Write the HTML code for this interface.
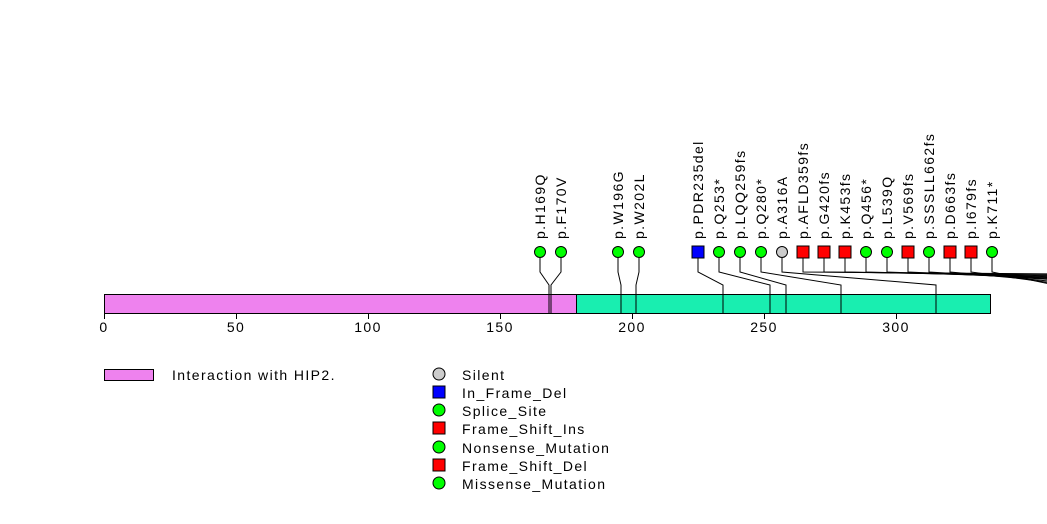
<!DOCTYPE html>
<html><head><style>body{margin:0;background:#fff}svg{display:block}text{font-family:"Liberation Sans",sans-serif;font-size:14px;fill:#000;letter-spacing:1.4px}</style></head>
<body>
<svg width="1047" height="524" xmlns="http://www.w3.org/2000/svg">
<g stroke="#000" stroke-width="1" fill="none">
<polyline points="540,252 540,272 549,285 549,313"/>
<polyline points="561,252 561,272 551,285 551,313"/>
<polyline points="618,252 618,272 621,285 621,313"/>
<polyline points="639,252 639,272 636,285 636,313"/>
<polyline points="698,252 698,272 723,285 723,313"/>
<polyline points="719,252 719,272 770,285 770,313"/>
<polyline points="740,252 740,272 786,285 786,313"/>
<polyline points="761,252 761,272 841,285 841,313"/>
<polyline points="782,252 782,272 936,285 936,313"/>
<polyline points="803,252 803,272 1060,274"/>
<polyline points="824,252 824,272 1060,275"/>
<polyline points="845,252 845,272 1060,276"/>
<polyline points="866,252 866,272 1060,277"/>
<polyline points="887,252 887,272 1060,278"/>
<polyline points="908,252 908,272 1060,279"/>
<polyline points="929,252 929,272 1060,280"/>
<polyline points="950,252 950,272 1060,282"/>
<polyline points="971,252 971,272 1060,284"/>
<polyline points="992,252 992,272 1060,286"/>
</g>
<rect x="104.5" y="294.5" width="472" height="19" fill="#ee82ee" stroke="#000"/>
<rect x="576.5" y="294.5" width="414" height="19" fill="#19eeb0" stroke="#000"/>
<g stroke="#000">
<line x1="549" y1="294" x2="549" y2="313"/><line x1="551" y1="294" x2="551" y2="313"/>
<line x1="621" y1="294" x2="621" y2="313"/><line x1="636" y1="294" x2="636" y2="313"/>
<line x1="723" y1="294" x2="723" y2="313"/><line x1="770" y1="294" x2="770" y2="313"/>
<line x1="786" y1="294" x2="786" y2="313"/><line x1="841" y1="294" x2="841" y2="313"/>
<line x1="936" y1="294" x2="936" y2="313"/>
<line x1="104.5" y1="313" x2="104.5" y2="319"/><line x1="236.5" y1="313" x2="236.5" y2="319"/>
<line x1="368.5" y1="313" x2="368.5" y2="319"/><line x1="500.5" y1="313" x2="500.5" y2="319"/>
<line x1="632.5" y1="313" x2="632.5" y2="319"/><line x1="764.5" y1="313" x2="764.5" y2="319"/>
<line x1="896.5" y1="313" x2="896.5" y2="319"/>
</g>
<g text-anchor="middle">
<text x="104" y="332">0</text><text x="236" y="332">50</text><text x="368" y="332">100</text>
<text x="500" y="332">150</text><text x="632" y="332">200</text><text x="764" y="332">250</text><text x="896" y="332">300</text>
</g>
<g stroke="#000">
<circle cx="540" cy="252" r="5.5" fill="#0f0"/><circle cx="561" cy="252" r="5.5" fill="#0f0"/>
<circle cx="618" cy="252" r="5.5" fill="#0f0"/><circle cx="639" cy="252" r="5.5" fill="#0f0"/>
<rect x="692" y="246" width="12" height="12" fill="#00f"/>
<circle cx="719" cy="252" r="5.5" fill="#0f0"/><circle cx="740" cy="252" r="5.5" fill="#0f0"/>
<circle cx="761" cy="252" r="5.5" fill="#0f0"/><circle cx="782" cy="252" r="5.5" fill="#ccc"/>
<rect x="797" y="246" width="12" height="12" fill="#f00"/><rect x="818" y="246" width="12" height="12" fill="#f00"/>
<rect x="839" y="246" width="12" height="12" fill="#f00"/>
<circle cx="866" cy="252" r="5.5" fill="#0f0"/><circle cx="887" cy="252" r="5.5" fill="#0f0"/>
<rect x="902" y="246" width="12" height="12" fill="#f00"/>
<circle cx="929" cy="252" r="5.5" fill="#0f0"/>
<rect x="944" y="246" width="12" height="12" fill="#f00"/><rect x="965" y="246" width="12" height="12" fill="#f00"/>
<circle cx="992" cy="252" r="5.5" fill="#0f0"/>
</g>
<g>
<text transform="translate(545,239) rotate(-90)">p.H169Q</text>
<text transform="translate(566,239) rotate(-90)">p.F170V</text>
<text transform="translate(623,239) rotate(-90)">p.W196G</text>
<text transform="translate(644,239) rotate(-90)">p.W202L</text>
<text transform="translate(703,239) rotate(-90)">p.PDR235del</text>
<text transform="translate(724,239) rotate(-90)">p.Q253*</text>
<text transform="translate(745,239) rotate(-90)">p.LQQ259fs</text>
<text transform="translate(766,239) rotate(-90)">p.Q280*</text>
<text transform="translate(787,239) rotate(-90)">p.A316A</text>
<text transform="translate(808,239) rotate(-90)">p.AFLD359fs</text>
<text transform="translate(829,239) rotate(-90)">p.G420fs</text>
<text transform="translate(850,239) rotate(-90)">p.K453fs</text>
<text transform="translate(871,239) rotate(-90)">p.Q456*</text>
<text transform="translate(892,239) rotate(-90)">p.L539Q</text>
<text transform="translate(913,239) rotate(-90)">p.V569fs</text>
<text transform="translate(934,239) rotate(-90)">p.SSSLL662fs</text>
<text transform="translate(955,239) rotate(-90)">p.D663fs</text>
<text transform="translate(976,239) rotate(-90)">p.I679fs</text>
<text transform="translate(997,239) rotate(-90)">p.K711*</text>
</g>
<rect x="104.5" y="369.5" width="49" height="11" fill="#ee82ee" stroke="#000"/>
<text x="172" y="380">Interaction with HIP2.</text>
<g stroke="#000">
<circle cx="439" cy="374" r="6" fill="#ccc"/>
<rect x="433" y="386" width="12" height="12" fill="#00f"/>
<circle cx="439" cy="410" r="6" fill="#0f0"/>
<rect x="433" y="422" width="12" height="12" fill="#f00"/>
<circle cx="439" cy="447" r="6" fill="#0f0"/>
<rect x="433" y="459" width="12" height="12" fill="#f00"/>
<circle cx="439" cy="483" r="6" fill="#0f0"/>
</g>
<text x="462" y="380">Silent</text>
<text x="462" y="398">In_Frame_Del</text>
<text x="462" y="416">Splice_Site</text>
<text x="462" y="434">Frame_Shift_Ins</text>
<text x="462" y="453">Nonsense_Mutation</text>
<text x="462" y="471">Frame_Shift_Del</text>
<text x="462" y="489">Missense_Mutation</text>
</svg>
</body></html>
